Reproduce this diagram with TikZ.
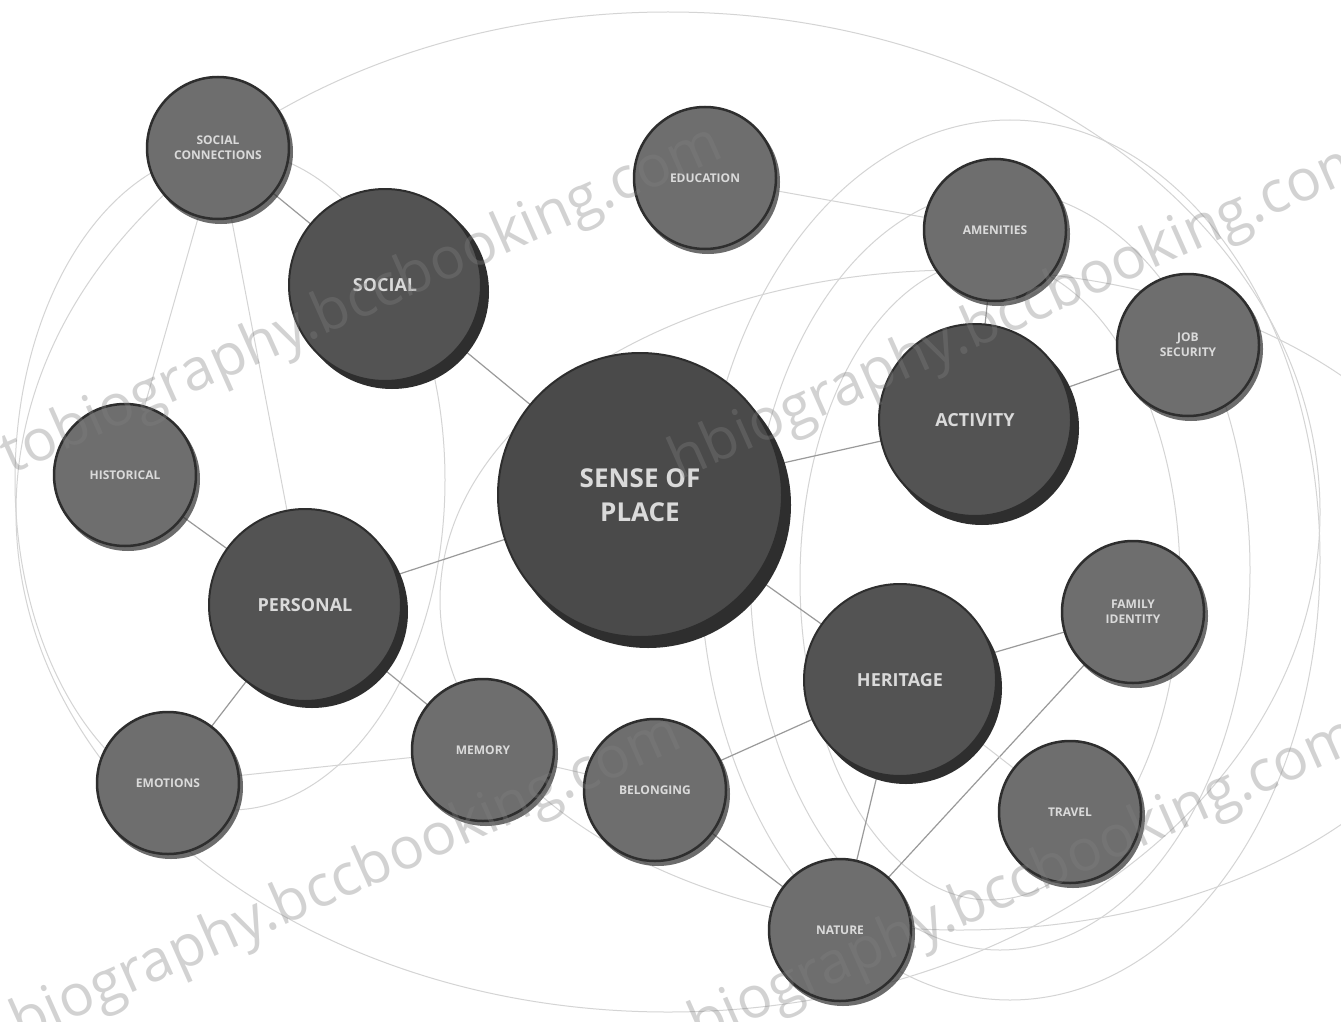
\documentclass[tikz,border=0pt]{standalone}
\usepackage{fontspec}
\setmainfont{Open Sans}
\definecolor{bigfill}{HTML}{4A4A4A}
\definecolor{midfill}{HTML}{535353}
\definecolor{smallfill}{HTML}{6E6E6E}
\definecolor{ringdark}{HTML}{2E2E2E}
\definecolor{linegray}{HTML}{9A9A9A}
\definecolor{faintgray}{HTML}{D4D4D4}
\definecolor{txtlight}{HTML}{DADADA}
\begin{document}
\begin{tikzpicture}[x=1pt,y=-1pt,
  conn/.style={draw=linegray,line width=1.2pt},
  faint/.style={draw=faintgray,line width=1pt},
  bigc/.style={circle,fill=bigfill,draw=ringdark,line width=2pt,minimum size=284pt,inner sep=0pt,align=center,text=txtlight,font=\bfseries\fontsize{26}{34}\selectfont},
  midc/.style={circle,fill=midfill,draw=ringdark,line width=2pt,minimum size=192pt,inner sep=0pt,align=center,text=txtlight,font=\bfseries\fontsize{18}{22}\selectfont},
  smallc/.style={circle,fill=smallfill,draw=ringdark,line width=2.5pt,minimum size=142pt,inner sep=0pt,align=center,text=txtlight,font=\bfseries\fontsize{12}{15}\selectfont},
  wm/.style={text=gray,opacity=0.35,font=\fontsize{58}{58}\selectfont,rotate=24,anchor=west}]
\useasboundingbox (0,0) rectangle (1341,1022);
\fill[white] (0,0) rectangle (1341,1022);
% faint background rings
\begin{scope}
\clip (0,0) rectangle (1341,1022);
\draw[faint] (668,512) ellipse [x radius=652pt, y radius=500pt];
\draw[faint] (1010,560) ellipse [x radius=310pt, y radius=440pt];
\draw[faint] (1000,570) ellipse [x radius=250pt, y radius=380pt];
\draw[faint] (990,580) ellipse [x radius=190pt, y radius=320pt];
\draw[faint] (960,600) ellipse [x radius=520pt, y radius=330pt];
\draw[faint] (230,480) ellipse [x radius=215pt, y radius=330pt];
\end{scope}
% centre coordinates
\coordinate (cSP) at (640,495);
\coordinate (cSO) at (385,285);
\coordinate (cPE) at (305,605);
\coordinate (cAC) at (975,420);
\coordinate (cHE) at (900,680);
\coordinate (cSC) at (218,148);
\coordinate (cED) at (705,178);
\coordinate (cAM) at (995,230);
\coordinate (cJS) at (1188,345);
\coordinate (cHI) at (125,475);
\coordinate (cFI) at (1133,612);
\coordinate (cEM) at (168,783);
\coordinate (cME) at (483,750);
\coordinate (cBE) at (655,790);
\coordinate (cTR) at (1070,812);
\coordinate (cNA) at (840,930);
% connectors (behind nodes)
\draw[conn] (cSP) -- (cSO);
\draw[conn] (cSP) -- (cPE);
\draw[conn] (cSP) -- (cAC);
\draw[conn] (cSP) -- (cHE);
\draw[conn] (cSO) -- (cSC);
\draw[conn] (cPE) -- (cHI);
\draw[conn] (cPE) -- (cEM);
\draw[conn] (cPE) -- (cME);
\draw[conn] (cAC) -- (cAM);
\draw[conn] (cAC) -- (cJS);
\draw[conn] (cHE) -- (cFI);
\draw[conn] (cHE) -- (cBE);
\draw[conn] (cHE) -- (cNA);
\draw[conn] (cFI) -- (cNA);
\draw[conn] (cBE) -- (cNA);
\draw[faint] (cEM) -- (cME);
\draw[faint] (cSC) -- (cPE);
\draw[faint] (cSC) -- (cHI);
\draw[faint] (cED) -- (cAM);
\draw[faint] (cHE) -- (cTR);
\draw[faint] (cME) -- (cBE);
% shadows
\fill[ringdark] ([shift={(8,10)}]cSP) circle (143pt);
\fill[ringdark] ([shift={(7,7)}]cSO) circle (97pt);
\fill[ringdark] ([shift={(7,7)}]cPE) circle (96pt);
\fill[ringdark] ([shift={(7,8)}]cAC) circle (97pt);
\fill[ringdark] ([shift={(6,8)}]cHE) circle (96pt);
\foreach \c in {cSC,cED,cAM,cJS,cHI,cFI,cEM,cME,cBE,cTR,cNA}
  \fill[ringdark,opacity=0.7] ([shift={(3,4)}]\c) circle (72pt);
% nodes
\node[bigc] (sp) at (cSP) {SENSE OF\\PLACE};
\node[midc] (so) at (cSO) {SOCIAL};
\node[midc] (pe) at (cPE) {PERSONAL};
\node[midc] (ac) at (cAC) {ACTIVITY};
\node[midc] (he) at (cHE) {HERITAGE};
\node[smallc] (sc) at (cSC) {SOCIAL\\CONNECTIONS};
\node[smallc] (ed) at (cED) {EDUCATION};
\node[smallc] (am) at (cAM) {AMENITIES};
\node[smallc] (js) at (cJS) {JOB\\SECURITY};
\node[smallc] (hi) at (cHI) {HISTORICAL};
\node[smallc] (fi) at (cFI) {FAMILY\\IDENTITY};
\node[smallc] (em) at (cEM) {EMOTIONS};
\node[smallc] (me) at (cME) {MEMORY};
\node[smallc] (be) at (cBE) {BELONGING};
\node[smallc] (tr) at (cTR) {TRAVEL};
\node[smallc] (na) at (cNA) {NATURE};
% watermarks
\begin{scope}
\clip (0,0) rectangle (1341,1022);
\node[wm] (w1) at (2,462) {tobiography.bccbooking.com};
\node[wm] (w2) at (670,468) {hbiography.bccbooking.com};
\node[wm] (w3) at (12,1030) {biography.bccbooking.com};
\node[wm] (w4) at (690,1032) {biography.bccbooking.com};
\end{scope}
\end{tikzpicture}
\end{document}
